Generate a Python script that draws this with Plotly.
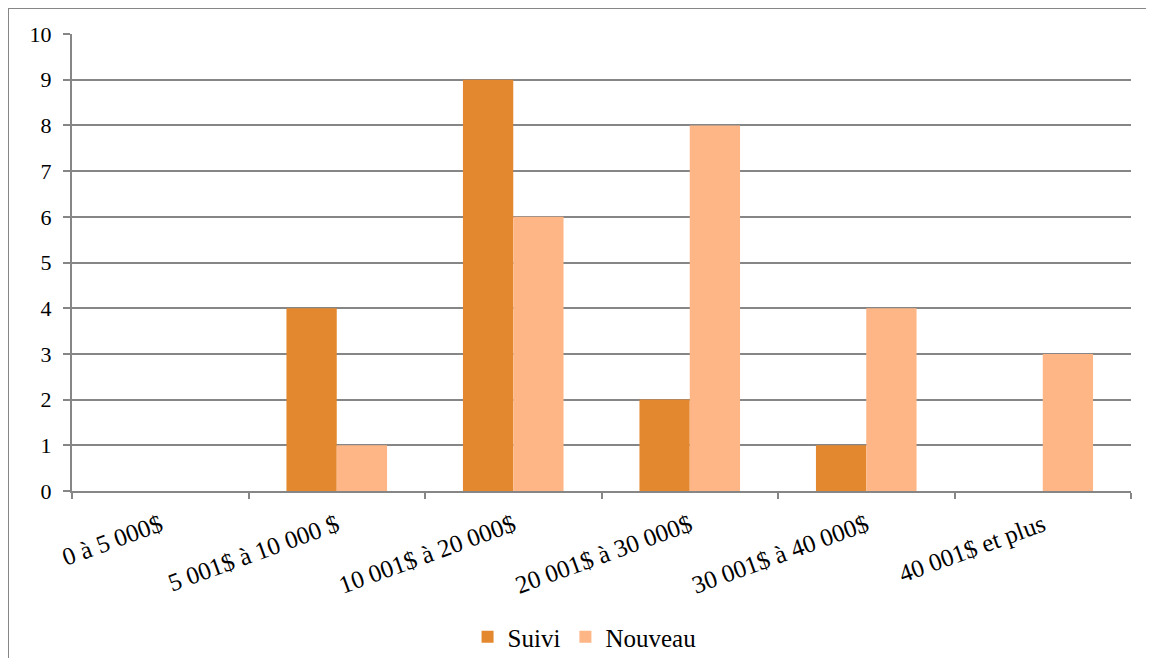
import plotly.graph_objects as go

categories = ["0 à 5 000$", "5 001$ à 10 000 $", "10 001$ à 20 000$",
              "20 001$ à 30 000$", "30 001$ à 40 000$", "40 001$ et plus"]
suivi = [0, 4, 9, 2, 1, 0]
nouveau = [0, 1, 6, 8, 4, 3]
y_ticks = list(range(0, 11))

# page has an 8px body margin, so the figure is sized to fit the window
W, H = 1138, 650
L, R, T, B = 64, 15, 26, 167
pw, ph = W - L - R, H - T - B
grid = "#868686"
font_family = "Liberation Serif"

fig = go.Figure()
fig.add_trace(go.Bar(name="Suivi", x=categories, y=suivi, marker_color="#E3882F",
                     marker_line_width=0))
fig.add_trace(go.Bar(name="Nouveau", x=categories, y=nouveau, marker_color="#FFB687",
                     marker_line_width=0))

fig.update_layout(
    width=W, height=H,
    margin=dict(l=L, r=R, t=T, b=B, pad=0, autoexpand=False),
    paper_bgcolor="white", plot_bgcolor="white",
    barmode="group", bargap=0.43, bargroupgap=0,
    font=dict(family=font_family, size=22, color="black"),
    showlegend=True,
    legend=dict(orientation="h", x=0.484, xanchor="center",
                yref="container", y=1 - 629 / H, yanchor="middle",
                font=dict(size=25, family=font_family), itemwidth=30,
                traceorder="normal"),
    xaxis=dict(showgrid=False, showline=True, linecolor=grid, linewidth=2,
               ticks="outside", ticklen=6, tickcolor=grid, tickwidth=2,
               tickson="boundaries", tickangle=-20, automargin=False,
               ticklabelstandoff=8,
               tickfont=dict(size=25, family=font_family)),
    yaxis=dict(range=[0, 10], tickvals=y_ticks, showgrid=True, gridcolor=grid,
               gridwidth=2, showline=True, linecolor=grid, linewidth=2,
               ticks="outside", ticklen=7, tickcolor=grid, tickwidth=2,
               zeroline=False, automargin=False,
               tickfont=dict(size=22, family=font_family), ticklabelstandoff=7),
)

# outer frame (top and left edges visible)
fx = -L / pw
fy = (T + ph) / ph
fig.add_shape(type="line", xref="paper", yref="paper", x0=fx, x1=(W - L) / pw,
              y0=fy, y1=fy, line=dict(color=grid, width=2))
fig.add_shape(type="line", xref="paper", yref="paper", x0=fx, x1=fx,
              y0=fy, y1=-(H - T - ph) / ph, line=dict(color=grid, width=2))

fig.write_html("out.html")
